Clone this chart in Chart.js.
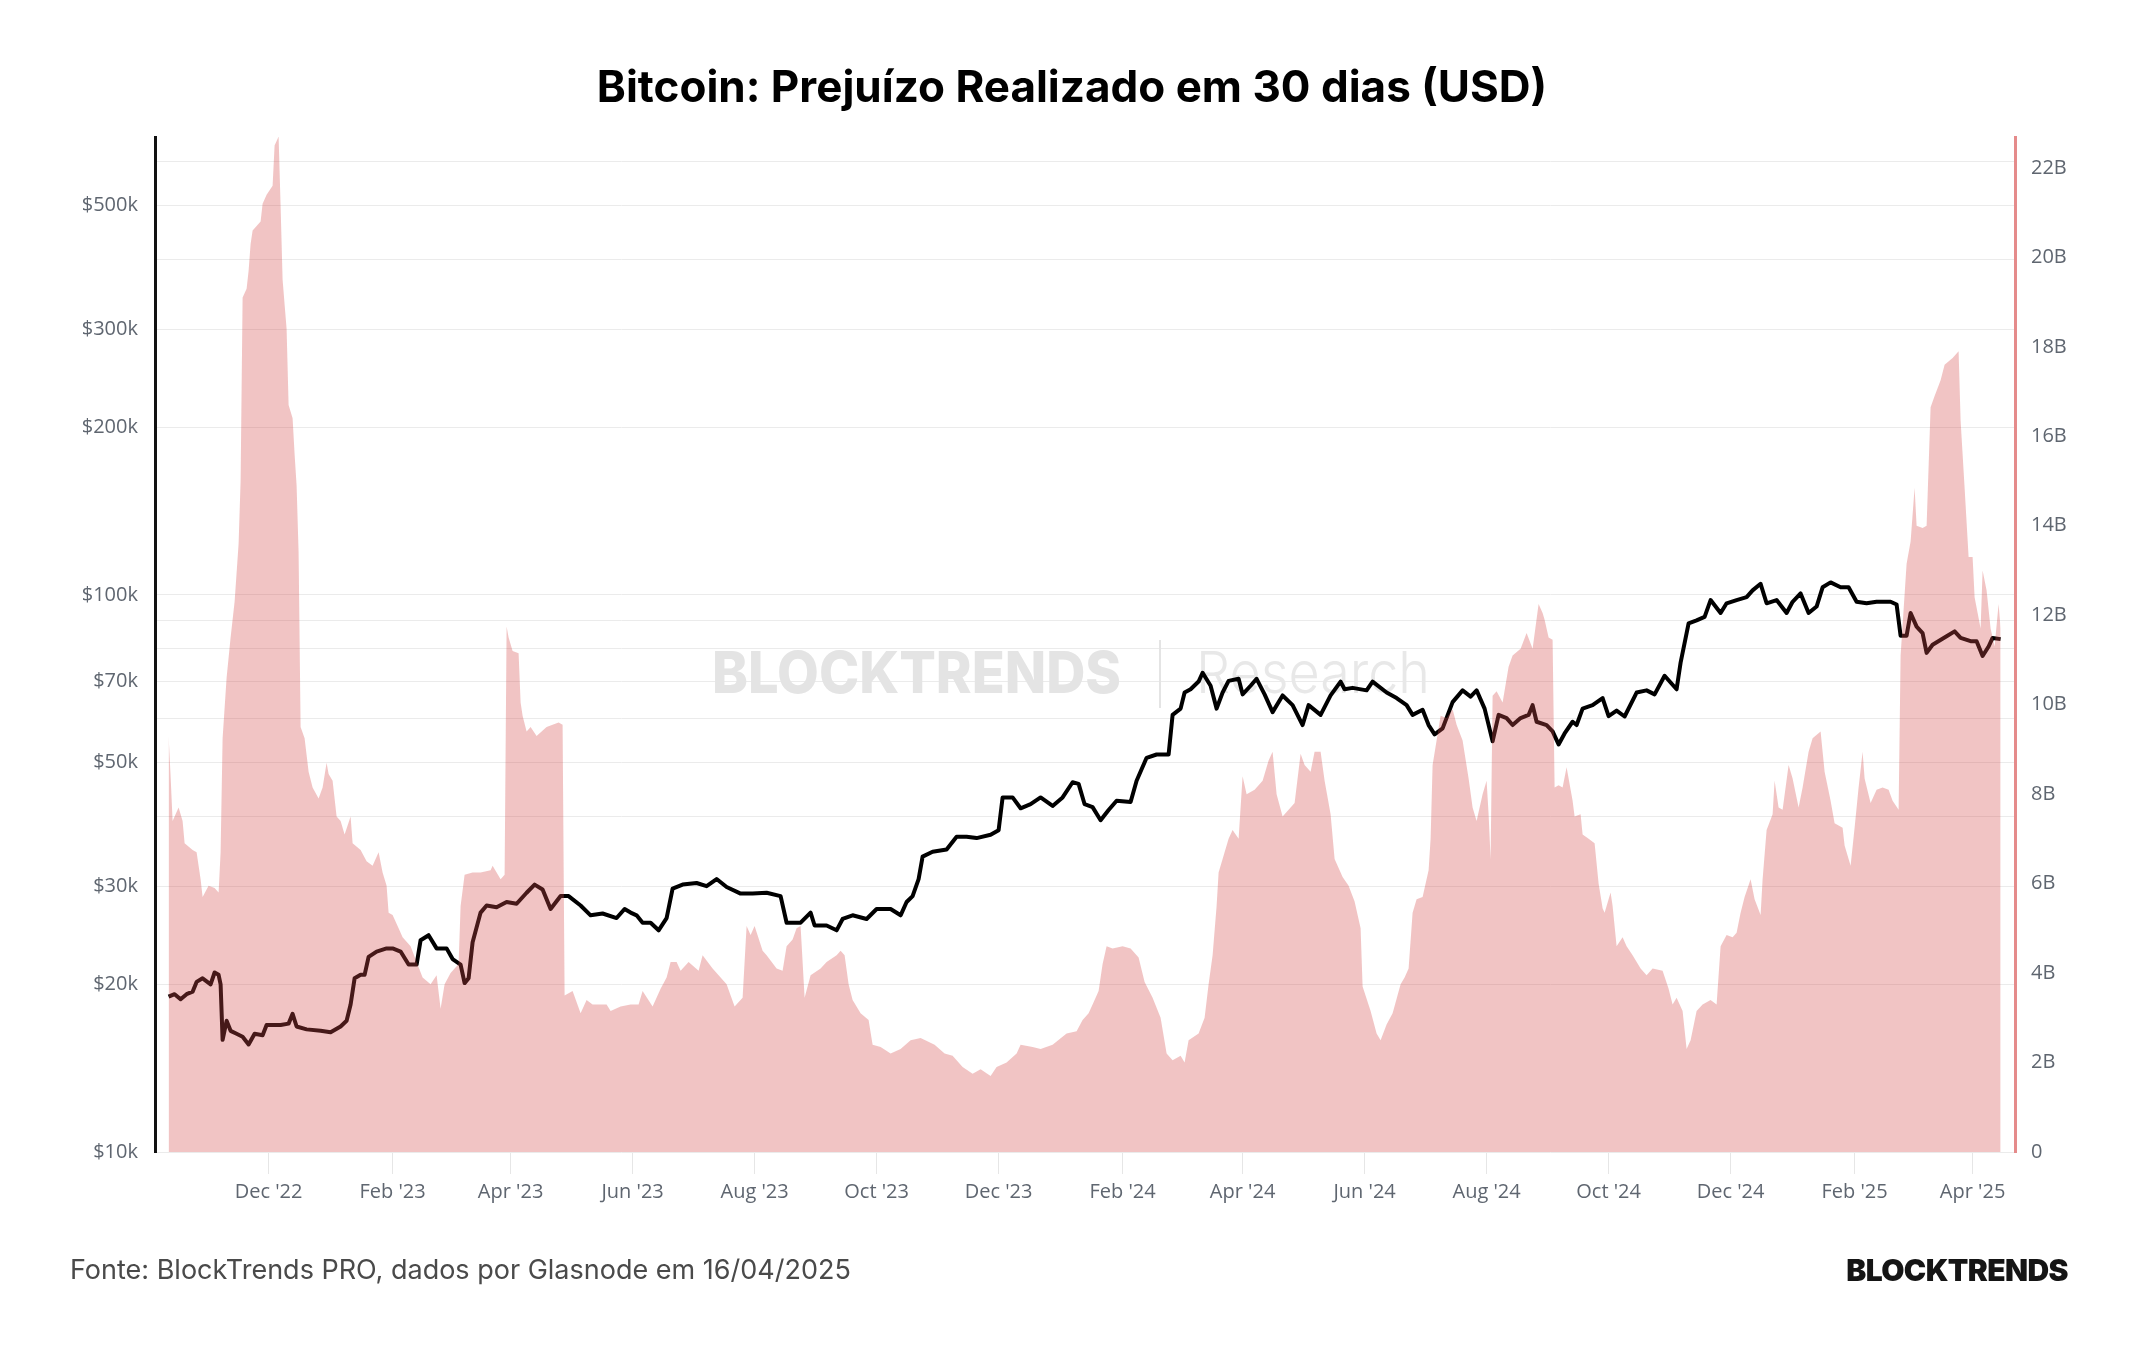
<!DOCTYPE html>
<html>
<head>
<meta charset="utf-8">
<script src="https://cdn.jsdelivr.net/npm/chart.js@4.4.1/dist/chart.umd.min.js"></script>
<style>
  html, body { margin: 0; padding: 0; background: #fff; }
  #wrap { position: relative; width: 2144px; height: 1350px; overflow: hidden; }
  #chart { position: absolute; left: 0; top: 0; }
  .title { position: absolute; left: 0; top: 63px; width: 2144px; text-align: center;
           font: 700 44px Inter, sans-serif; line-height: 46px; color: #000; }
  .source { position: absolute; left: 70px; top: 1256px; font: 400 27px Inter, sans-serif;
            line-height: 28px; color: #4a4a4a; }
  .logo { position: absolute; right: 76px; top: 1255px; font: 900 30px Inter, sans-serif;
          line-height: 30px; color: #151515; letter-spacing: -0.6px; }
</style>
</head>
<body>
<div id="wrap">
  <canvas id="chart" width="2144" height="1350"></canvas>
  <div class="title">Bitcoin: Prejuízo Realizado em 30 dias (USD)</div>
  <div class="source">Fonte: BlockTrends PRO, dados por Glasnode em 16/04/2025</div>
  <div class="logo">BLOCKTRENDS</div>
</div>
<script>
// realized loss, 30-day sum, billions USD
const lossDates = [
  '2022-10-12','2022-10-13','2022-10-14','2022-10-17','2022-10-19','2022-10-20','2022-10-24','2022-10-26','2022-10-28','2022-10-29',
  '2022-11-01','2022-11-04','2022-11-06','2022-11-07','2022-11-08','2022-11-10','2022-11-12','2022-11-14','2022-11-16','2022-11-17',
  '2022-11-18','2022-11-20','2022-11-21','2022-11-22','2022-11-23','2022-11-27','2022-11-28','2022-11-30','2022-12-03','2022-12-04',
  '2022-12-06','2022-12-07','2022-12-08','2022-12-10','2022-12-11','2022-12-13','2022-12-14','2022-12-15','2022-12-16','2022-12-17',
  '2022-12-19','2022-12-21','2022-12-23','2022-12-26','2022-12-28','2022-12-30','2022-12-31','2023-01-02','2023-01-04','2023-01-06',
  '2023-01-08','2023-01-11','2023-01-12','2023-01-16','2023-01-19','2023-01-22','2023-01-25','2023-01-27','2023-01-29','2023-01-30',
  '2023-02-01','2023-02-04','2023-02-06','2023-02-10','2023-02-13','2023-02-16','2023-02-20','2023-02-23','2023-02-25','2023-02-27',
  '2023-03-02','2023-03-06','2023-03-07','2023-03-09','2023-03-13','2023-03-17','2023-03-22','2023-03-23','2023-03-27','2023-03-29',
  '2023-03-30','2023-03-31','2023-04-02','2023-04-05','2023-04-06','2023-04-07','2023-04-09','2023-04-11','2023-04-14','2023-04-19',
  '2023-04-25','2023-04-27','2023-04-28','2023-05-02','2023-05-06','2023-05-09','2023-05-12','2023-05-19','2023-05-21','2023-05-26',
  '2023-05-31','2023-06-04','2023-06-06','2023-06-11','2023-06-15','2023-06-18','2023-06-20','2023-06-23','2023-06-25','2023-06-29',
  '2023-07-04','2023-07-06','2023-07-11','2023-07-15','2023-07-18','2023-07-22','2023-07-26','2023-07-28','2023-07-30','2023-08-01',
  '2023-08-05','2023-08-07','2023-08-12','2023-08-15','2023-08-17','2023-08-20','2023-08-22','2023-08-24','2023-08-26','2023-08-29',
  '2023-09-03','2023-09-06','2023-09-11','2023-09-13','2023-09-15','2023-09-17','2023-09-19','2023-09-23','2023-09-27','2023-09-29',
  '2023-10-03','2023-10-08','2023-10-13','2023-10-18','2023-10-23','2023-10-30','2023-11-04','2023-11-08','2023-11-13','2023-11-18',
  '2023-11-22','2023-11-27','2023-11-30','2023-12-05','2023-12-10','2023-12-12','2023-12-18','2023-12-22','2023-12-28','2024-01-04',
  '2024-01-09','2024-01-12','2024-01-15','2024-01-17','2024-01-20','2024-01-22','2024-01-24','2024-01-27','2024-02-01','2024-02-05',
  '2024-02-09','2024-02-12','2024-02-16','2024-02-20','2024-02-23','2024-02-26','2024-03-01','2024-03-03','2024-03-05','2024-03-10',
  '2024-03-13','2024-03-15','2024-03-17','2024-03-19','2024-03-20','2024-03-22','2024-03-25','2024-03-27','2024-03-30','2024-04-01',
  '2024-04-03','2024-04-07','2024-04-11','2024-04-14','2024-04-16','2024-04-18','2024-04-21','2024-04-24','2024-04-27','2024-04-30',
  '2024-05-02','2024-05-05','2024-05-07','2024-05-10','2024-05-12','2024-05-15','2024-05-17','2024-05-21','2024-05-24','2024-05-27',
  '2024-05-30','2024-05-31','2024-06-04','2024-06-07','2024-06-09','2024-06-12','2024-06-15','2024-06-19','2024-06-21','2024-06-23',
  '2024-06-25','2024-06-27','2024-06-30','2024-07-03','2024-07-04','2024-07-05','2024-07-09','2024-07-12','2024-07-15','2024-07-17',
  '2024-07-20','2024-07-23','2024-07-25','2024-07-27','2024-07-30','2024-08-01','2024-08-02','2024-08-03','2024-08-04','2024-08-06',
  '2024-08-09','2024-08-12','2024-08-14','2024-08-18','2024-08-21','2024-08-24','2024-08-27','2024-08-29','2024-08-30','2024-09-01',
  '2024-09-03','2024-09-04','2024-09-06','2024-09-08','2024-09-10','2024-09-13','2024-09-14','2024-09-17','2024-09-18','2024-09-21',
  '2024-09-24','2024-09-26','2024-09-28','2024-09-29','2024-10-02','2024-10-03','2024-10-05','2024-10-08','2024-10-10','2024-10-13',
  '2024-10-17','2024-10-20','2024-10-23','2024-10-28','2024-10-31','2024-11-02','2024-11-04','2024-11-07','2024-11-09','2024-11-11',
  '2024-11-14','2024-11-17','2024-11-21','2024-11-24','2024-11-26','2024-11-29','2024-12-02','2024-12-04','2024-12-06','2024-12-08',
  '2024-12-11','2024-12-13','2024-12-16','2024-12-17','2024-12-19','2024-12-22','2024-12-23','2024-12-25','2024-12-27','2024-12-30',
  '2025-01-01','2025-01-04','2025-01-06','2025-01-09','2025-01-11','2025-01-15','2025-01-17','2025-01-20','2025-01-22','2025-01-26',
  '2025-01-27','2025-01-30','2025-02-01','2025-02-03','2025-02-05','2025-02-06','2025-02-09','2025-02-12','2025-02-15','2025-02-18',
  '2025-02-20','2025-02-23','2025-02-24','2025-02-27','2025-03-01','2025-03-03','2025-03-04','2025-03-07','2025-03-09','2025-03-11',
  '2025-03-13','2025-03-16','2025-03-18','2025-03-22','2025-03-24','2025-03-25','2025-03-26','2025-03-28','2025-03-30','2025-04-01',
  '2025-04-02','2025-04-05','2025-04-06','2025-04-08','2025-04-10','2025-04-12','2025-04-14','2025-04-15'
];
const lossValues = [
  9.3, 8.4, 7.4, 7.7, 7.4, 6.9, 6.75, 6.7, 6.1, 5.7,
  5.95, 5.9, 5.8, 6.7, 9.25, 10.6, 11.5, 12.3, 13.6, 15.0,
  19.1, 19.3, 19.7, 20.3, 20.6, 20.8, 21.2, 21.4, 21.6, 22.5,
  22.7, 21.15, 19.5, 18.4, 16.7, 16.4, 15.6, 14.9, 13.4, 9.5,
  9.25, 8.5, 8.15, 7.9, 8.15, 8.7, 8.45, 8.3, 7.5, 7.4,
  7.1, 7.5, 6.9, 6.75, 6.5, 6.4, 6.7, 6.25, 5.95, 5.35,
  5.3, 5.0, 4.8, 4.6, 4.25, 3.9, 3.75, 3.95, 3.2, 3.75,
  4.0, 4.2, 5.5, 6.2, 6.25, 6.25, 6.3, 6.4, 6.1, 6.2,
  11.75, 11.5, 11.2, 11.15, 10.05, 9.75, 9.4, 9.5, 9.3, 9.5,
  9.6, 9.55, 3.5, 3.6, 3.1, 3.4, 3.3, 3.3, 3.15, 3.25,
  3.3, 3.3, 3.6, 3.25, 3.65, 3.9, 4.25, 4.25, 4.05, 4.25,
  4.05, 4.4, 4.1, 3.9, 3.75, 3.25, 3.45, 5.05, 4.85, 5.05,
  4.5, 4.4, 4.1, 4.05, 4.6, 4.75, 5.0, 5.05, 3.45, 3.95,
  4.1, 4.25, 4.4, 4.5, 4.4, 3.75, 3.4, 3.1, 2.95, 2.4,
  2.35, 2.2, 2.3, 2.5, 2.55, 2.4, 2.2, 2.15, 1.9, 1.75,
  1.85, 1.7, 1.9, 2.0, 2.2, 2.4, 2.35, 2.3, 2.4, 2.65,
  2.7, 2.95, 3.1, 3.3, 3.6, 4.2, 4.6, 4.55, 4.6, 4.55,
  4.35, 3.8, 3.45, 3.0, 2.2, 2.05, 2.15, 2.0, 2.5, 2.65,
  3.0, 3.75, 4.4, 5.5, 6.25, 6.55, 7.0, 7.2, 7.0, 8.4,
  8.0, 8.1, 8.3, 8.75, 8.95, 8.0, 7.5, 7.65, 7.8, 8.9,
  8.65, 8.5, 8.95, 8.95, 8.3, 7.55, 6.55, 6.15, 5.95, 5.6,
  5.0, 3.7, 3.15, 2.65, 2.5, 2.85, 3.1, 3.75, 3.9, 4.1,
  5.35, 5.65, 5.7, 6.3, 7.0, 8.65, 9.75, 9.7, 9.9, 9.55,
  9.2, 8.35, 7.7, 7.4, 8.0, 8.3, 7.55, 6.55, 10.2, 10.3,
  10.05, 10.85, 11.1, 11.25, 11.6, 11.25, 12.25, 12.05, 11.9, 11.5,
  11.45, 8.15, 8.2, 8.15, 8.6, 7.85, 7.5, 7.55, 7.1, 7.0,
  6.9, 6.0, 5.45, 5.35, 5.8, 5.5, 4.6, 4.8, 4.6, 4.4,
  4.1, 3.95, 4.1, 4.05, 3.65, 3.3, 3.45, 3.15, 2.3, 2.5,
  3.15, 3.3, 3.4, 3.3, 4.6, 4.85, 4.8, 4.9, 5.35, 5.7,
  6.1, 5.65, 5.3, 6.1, 7.2, 7.55, 8.3, 7.7, 7.65, 8.65,
  8.35, 7.7, 8.15, 8.95, 9.25, 9.4, 8.5, 7.85, 7.35, 7.25,
  6.85, 6.4, 7.25, 8.15, 8.95, 8.35, 7.8, 8.1, 8.15, 8.1,
  7.85, 7.65, 11.1, 13.15, 13.65, 14.85, 14.0, 13.95, 14.0, 16.65,
  16.9, 17.25, 17.6, 17.75, 17.85, 17.9, 16.35, 14.85, 13.3, 13.3,
  12.4, 11.7, 13.0, 12.55, 11.7, 11.3, 12.25, 11.7
];

// BTC price, thousands USD
const priceDates = [
  '2022-10-12','2022-10-15','2022-10-18','2022-10-21','2022-10-24','2022-10-26','2022-10-29','2022-11-02','2022-11-04','2022-11-06',
  '2022-11-07','2022-11-08','2022-11-10','2022-11-12','2022-11-15','2022-11-18','2022-11-21','2022-11-24','2022-11-28','2022-11-30',
  '2022-12-07','2022-12-11','2022-12-13','2022-12-15','2022-12-20','2022-12-27','2023-01-01','2023-01-06','2023-01-09','2023-01-11',
  '2023-01-13','2023-01-16','2023-01-18','2023-01-20','2023-01-24','2023-01-29','2023-02-01','2023-02-05','2023-02-09','2023-02-13',
  '2023-02-15','2023-02-19','2023-02-23','2023-02-28','2023-03-03','2023-03-07','2023-03-09','2023-03-11','2023-03-13','2023-03-17',
  '2023-03-20','2023-03-25','2023-03-30','2023-04-04','2023-04-09','2023-04-13','2023-04-17','2023-04-21','2023-04-26','2023-04-30',
  '2023-05-06','2023-05-11','2023-05-17','2023-05-24','2023-05-28','2023-05-31','2023-06-03','2023-06-06','2023-06-10','2023-06-14',
  '2023-06-18','2023-06-21','2023-06-26','2023-07-03','2023-07-08','2023-07-13','2023-07-18','2023-07-25','2023-07-31','2023-08-07',
  '2023-08-14','2023-08-17','2023-08-24','2023-08-29','2023-08-31','2023-09-06','2023-09-11','2023-09-14','2023-09-19','2023-09-26',
  '2023-10-01','2023-10-08','2023-10-13','2023-10-16','2023-10-19','2023-10-22','2023-10-24','2023-10-29','2023-11-05','2023-11-10',
  '2023-11-15','2023-11-20','2023-11-27','2023-12-01','2023-12-03','2023-12-08','2023-12-12','2023-12-17','2023-12-22','2023-12-28',
  '2024-01-02','2024-01-07','2024-01-10','2024-01-13','2024-01-17','2024-01-21','2024-01-25','2024-01-29','2024-02-05','2024-02-08',
  '2024-02-13','2024-02-18','2024-02-24','2024-02-26','2024-03-01','2024-03-03','2024-03-06','2024-03-10','2024-03-12','2024-03-16',
  '2024-03-19','2024-03-22','2024-03-25','2024-03-30','2024-04-01','2024-04-05','2024-04-08','2024-04-12','2024-04-16','2024-04-21',
  '2024-04-26','2024-05-01','2024-05-04','2024-05-10','2024-05-15','2024-05-20','2024-05-22','2024-05-26','2024-06-02','2024-06-05',
  '2024-06-12','2024-06-17','2024-06-22','2024-06-25','2024-06-30','2024-07-03','2024-07-06','2024-07-10','2024-07-15','2024-07-20',
  '2024-07-24','2024-07-27','2024-07-31','2024-08-04','2024-08-07','2024-08-11','2024-08-14','2024-08-18','2024-08-22','2024-08-24',
  '2024-08-26','2024-08-31','2024-09-03','2024-09-06','2024-09-09','2024-09-13','2024-09-15','2024-09-18','2024-09-23','2024-09-28',
  '2024-10-01','2024-10-05','2024-10-09','2024-10-15','2024-10-20','2024-10-24','2024-10-29','2024-11-04','2024-11-06','2024-11-10',
  '2024-11-14','2024-11-18','2024-11-21','2024-11-26','2024-11-29','2024-12-04','2024-12-09','2024-12-12','2024-12-16','2024-12-19',
  '2024-12-24','2024-12-29','2025-01-01','2025-01-05','2025-01-09','2025-01-13','2025-01-16','2025-01-20','2025-01-25','2025-01-29',
  '2025-02-02','2025-02-07','2025-02-12','2025-02-19','2025-02-22','2025-02-24','2025-02-27','2025-03-01','2025-03-04','2025-03-07',
  '2025-03-09','2025-03-12','2025-03-19','2025-03-23','2025-03-26','2025-03-31','2025-04-03','2025-04-06','2025-04-09','2025-04-11',
  '2025-04-15'
];
const priceValues = [
  19.0, 19.2, 18.8, 19.2, 19.4, 20.2, 20.5, 20.0, 21.0, 20.8,
  20.0, 15.9, 17.2, 16.5, 16.3, 16.1, 15.6, 16.3, 16.2, 16.9,
  16.9, 17.0, 17.7, 16.8, 16.6, 16.5, 16.4, 16.8, 17.2, 18.4,
  20.5, 20.8, 20.8, 22.4, 22.9, 23.2, 23.2, 22.9, 21.7, 21.7,
  24.0, 24.5, 23.2, 23.2, 22.2, 21.7, 20.1, 20.5, 23.8, 26.9,
  27.7, 27.5, 28.1, 27.9, 29.2, 30.2, 29.6, 27.3, 28.8, 28.8,
  27.7, 26.6, 26.8, 26.3, 27.3, 26.9, 26.6, 25.8, 25.8, 25.0,
  26.3, 29.7, 30.2, 30.4, 30.0, 30.9, 29.9, 29.1, 29.1, 29.2,
  28.8, 25.8, 25.8, 26.9, 25.5, 25.5, 25.0, 26.2, 26.6, 26.2,
  27.3, 27.3, 26.6, 28.1, 28.8, 30.9, 33.9, 34.6, 34.9, 36.8,
  36.8, 36.6, 37.1, 37.8, 43.3, 43.3, 41.4, 42.1, 43.3, 41.8,
  43.3, 46.1, 45.8, 42.1, 41.6, 39.4, 41.1, 42.7, 42.5, 46.4,
  51.0, 51.7, 51.7, 60.9, 62.5, 66.8, 67.7, 69.9, 72.5, 68.7,
  62.5, 66.8, 70.1, 70.7, 66.3, 68.7, 70.7, 66.3, 61.6, 66.0,
  63.4, 58.4, 63.4, 60.9, 66.0, 69.9, 67.7, 68.1, 67.4, 69.9,
  66.8, 65.3, 63.4, 60.9, 62.2, 58.4, 56.2, 57.6, 64.2, 67.4,
  65.7, 67.4, 62.5, 54.6, 60.9, 60.1, 58.4, 60.1, 60.9, 63.4,
  59.2, 58.4, 56.9, 53.9, 56.4, 59.2, 58.4, 62.5, 63.4, 65.3,
  60.6, 62.0, 60.5, 66.8, 67.4, 66.3, 71.6, 67.7, 75.6, 88.9,
  90.0, 91.3, 97.9, 92.8, 96.6, 97.9, 99.1, 101.9, 104.7, 96.6,
  97.9, 92.8, 97.2, 100.6, 92.8, 95.3, 103.2, 105.3, 103.2, 103.2,
  97.2, 96.6, 97.2, 97.2, 96.1, 84.5, 84.5, 92.8, 87.7, 85.4,
  78.7, 81.4, 84.3, 86.0, 83.7, 82.6, 82.6, 77.7, 80.8, 83.7,
  83.3
];

const xTickDates = ['2022-12-01','2023-02-01','2023-04-01','2023-06-01','2023-08-01','2023-10-01','2023-12-01',
  '2024-02-01','2024-04-01','2024-06-01','2024-08-01','2024-10-01','2024-12-01','2025-02-01','2025-04-01'];
const xTickLabels = ["Dec '22","Feb '23","Apr '23","Jun '23","Aug '23","Oct '23","Dec '23",
  "Feb '24","Apr '24","Jun '24","Aug '24","Oct '24","Dec '24","Feb '25","Apr '25"];

const priceGridTicks = [10, 20, 30, 40, 50, 60, 70, 80, 90, 100, 200, 300, 400, 500, 600];
const priceLabelTicks = [10, 20, 30, 50, 70, 100, 200, 300, 500];
const lossTicks = [0, 2, 4, 6, 8, 10, 12, 14, 16, 18, 20, 22];

function toDay(s) {
  return Date.UTC(+s.slice(0, 4), +s.slice(5, 7) - 1, +s.slice(8, 10)) / 86400000;
}

const day0 = toDay('2022-12-01');
const tickColor = '#5f6670';

const watermark = {
  id: 'watermark',
  beforeDatasetsDraw(chart) {
    const ctx = chart.ctx;
    ctx.save();
    ctx.textBaseline = 'middle';
    ctx.fillStyle = '#e4e4e4';
    ctx.font = '800 58px Inter';
    let w = ctx.measureText('BLOCKTRENDS').width;
    ctx.translate(712, 676);
    ctx.scale(409 / w, 1);
    ctx.fillText('BLOCKTRENDS', 0, 0);
    ctx.restore();

    ctx.save();
    ctx.strokeStyle = '#e4e4e4';
    ctx.lineWidth = 2;
    ctx.beginPath();
    ctx.moveTo(1160, 640);
    ctx.lineTo(1160, 708);
    ctx.stroke();

    ctx.textBaseline = 'middle';
    ctx.fillStyle = '#e8e8e8';
    ctx.font = '300 58px Inter';
    w = ctx.measureText('Research').width;
    ctx.translate(1196, 676);
    ctx.scale(234 / w, 1);
    ctx.fillText('Research', 0, 0);
    ctx.restore();
  }
};

new Chart(document.getElementById('chart'), {
  type: 'line',
  data: {
    datasets: [{
      label: 'Prejuízo realizado 30d',
      data: lossDates.map((d, i) => ({ x: toDay(d), y: lossValues[i] })),
      yAxisID: 'yLoss',
      fill: 'origin',
      backgroundColor: 'rgba(214, 76, 76, 0.33)',
      borderWidth: 0,
      pointRadius: 0,
      tension: 0,
      order: 0
    }, {
      label: 'Preço BTC',
      data: priceDates.map((d, i) => ({ x: toDay(d), y: priceValues[i] })),
      yAxisID: 'yPrice',
      fill: false,
      borderColor: '#000',
      borderWidth: 4,
      borderJoinStyle: 'round',
      pointRadius: 0,
      tension: 0,
      order: 1
    }]
  },
  options: {
    responsive: false,
    animation: false,
    devicePixelRatio: 1,
    layout: { padding: { top: 137, left: 0, right: 0, bottom: 138 } },
    plugins: { legend: { display: false }, tooltip: { enabled: false } },
    scales: {
      x: {
        type: 'linear',
        min: day0 - 56.8,
        max: day0 + 873.2,
        afterBuildTicks: (scale) => { scale.ticks = xTickDates.map(d => ({ value: toDay(d) })); },
        afterFit: (scale) => { scale.height = 60; },
        grid: { drawOnChartArea: false, drawTicks: true, tickLength: 22, color: '#e6e6e6', tickColor: '#e6e6e6' },
        border: { display: false },
        ticks: {
          autoSkip: false, maxRotation: 0, padding: 6, color: tickColor,
          font: { family: "'Open Sans', sans-serif", size: 20 },
          callback: (v, i) => xTickLabels[i]
        }
      },
      yPrice: {
        type: 'logarithmic',
        position: 'left',
        min: 10,
        max: 663.7,
        afterBuildTicks: (scale) => { scale.ticks = priceGridTicks.map(v => ({ value: v })); },
        afterFit: (scale) => { scale.width = 155; },
        grid: { color: '#ebebeb', lineWidth: 1, drawTicks: false },
        border: { color: '#111', width: 3 },
        ticks: {
          autoSkip: false, padding: 17, color: tickColor,
          font: { family: "'Open Sans', sans-serif", size: 20 },
          callback: (v) => priceLabelTicks.includes(v) ? '$' + v + 'k' : ''
        }
      },
      yLoss: {
        type: 'linear',
        position: 'right',
        min: 0,
        max: 22.69,
        afterBuildTicks: (scale) => { scale.ticks = lossTicks.map(v => ({ value: v })); },
        afterFit: (scale) => { scale.width = 129; },
        grid: { display: false, drawTicks: false },
        border: { color: '#e58b8b', width: 3 },
        ticks: {
          autoSkip: false, padding: 16, color: tickColor,
          font: { family: "'Open Sans', sans-serif", size: 20 },
          callback: (v) => v === 0 ? '0' : v + 'B'
        }
      }
    }
  },
  plugins: [watermark]
});
</script>
</body>
</html>
